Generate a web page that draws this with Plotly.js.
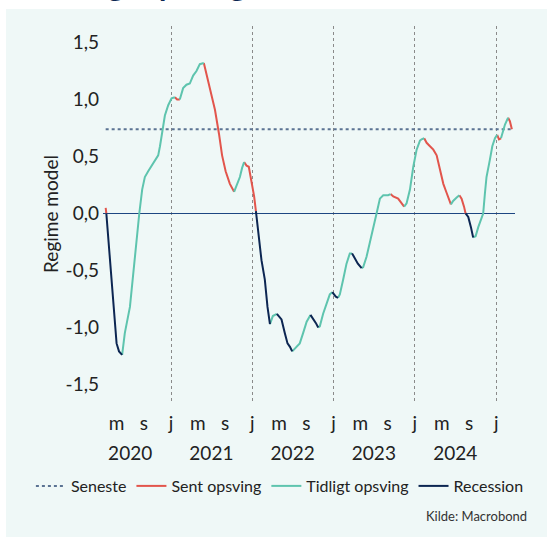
<!DOCTYPE html>
<html>
<head>
<meta charset="utf-8">
<script src="https://cdn.plot.ly/plotly-3.0.1.min.js"></script>
<style>html,body{margin:0;padding:0;background:#fff;}#chart{width:553px;height:540px;}</style>
</head>
<body>
<div id="chart"></div>
<script>
// ---- Data ----
const dates = [
"2020-03-13","2020-03-16","2020-03-28","2020-04-09","2020-04-16","2020-04-24","2020-05-01","2020-05-12","2020-05-26",
"2020-06-07","2020-06-30","2020-07-15","2020-07-30","2020-08-11","2020-08-24","2020-09-05","2020-09-20","2020-10-13",
"2020-11-04","2020-11-12","2020-11-22","2020-12-04","2020-12-19","2021-01-03","2021-01-18","2021-01-28","2021-02-09",
"2021-02-24","2021-03-11","2021-03-26","2021-04-10","2021-04-25","2021-05-10","2021-05-28","2021-06-24","2021-07-17",
"2021-08-04","2021-08-18","2021-09-03","2021-09-22","2021-10-11","2021-10-22","2021-11-06","2021-11-16","2021-11-25",
"2021-12-06","2021-12-16","2021-12-28","2022-01-09","2022-01-17","2022-01-27","2022-02-11","2022-02-26","2022-03-10",
"2022-03-21","2022-04-03","2022-04-21","2022-05-12","2022-05-27","2022-06-08","2022-06-19","2022-06-29","2022-07-14",
"2022-08-02","2022-08-17","2022-09-02","2022-09-19","2022-10-01","2022-10-13","2022-10-24","2022-10-31","2022-11-15",
"2022-11-30","2022-12-15","2022-12-26","2023-01-02","2023-01-11","2023-01-21","2023-01-29","2023-02-13","2023-02-28",
"2023-03-15","2023-03-25","2023-04-02","2023-04-20","2023-05-07","2023-05-14","2023-05-29","2023-06-13","2023-06-28",
"2023-07-13","2023-07-28","2023-08-12","2023-09-03","2023-09-14","2023-09-26","2023-10-18","2023-11-02","2023-11-14",
"2023-11-25","2023-12-10","2023-12-25","2024-01-09","2024-01-16","2024-01-24","2024-01-31","2024-02-12","2024-02-23",
"2024-03-09","2024-03-24","2024-04-08","2024-04-23","2024-05-08","2024-05-23","2024-06-11","2024-06-21","2024-07-07",
"2024-07-19","2024-07-29","2024-08-09","2024-08-16","2024-08-28","2024-09-09","2024-09-19","2024-09-30","2024-10-12",
"2024-10-27","2024-11-03","2024-11-11","2024-11-18","2024-12-03","2024-12-14","2024-12-26","2025-01-05","2025-01-13",
"2025-01-22","2025-01-27","2025-02-09","2025-02-23","2025-03-03","2025-03-12"
];
const values = [
0.05,0.00,-0.29,-0.58,-0.82,-1.02,-1.14,-1.21,-1.24,
-1.05,-0.82,-0.52,-0.20,0.00,0.21,0.32,0.37,0.44,
0.51,0.59,0.73,0.86,0.95,1.01,1.02,1.00,1.00,
1.10,1.13,1.14,1.21,1.25,1.31,1.32,1.11,0.91,
0.70,0.51,0.37,0.26,0.19,0.25,0.32,0.40,0.45,
0.42,0.41,0.28,0.15,0.02,-0.17,-0.41,-0.58,-0.82,
-0.97,-0.90,-0.88,-0.93,-1.05,-1.14,-1.17,-1.21,-1.18,
-1.14,-1.05,-0.95,-0.89,-0.92,-0.96,-1.00,-0.99,-0.88,
-0.79,-0.71,-0.69,-0.71,-0.73,-0.74,-0.71,-0.58,-0.44,
-0.35,-0.35,-0.38,-0.44,-0.48,-0.47,-0.38,-0.26,-0.12,
0.00,0.13,0.16,0.16,0.17,0.15,0.13,0.09,0.06,
0.09,0.21,0.41,0.56,0.59,0.64,0.65,0.66,0.62,
0.59,0.56,0.51,0.38,0.26,0.18,0.08,0.11,0.14,
0.16,0.13,0.06,0.00,-0.03,-0.12,-0.21,-0.20,-0.12,
-0.04,0.00,0.18,0.32,0.47,0.59,0.66,0.69,0.65,
0.66,0.70,0.78,0.84,0.81,0.74
];
// regime of the segment ending at each point: S = Sent opsving, T = Tidligt opsving, R = Recession
const regimes = [
"S","S","R","R","R","R","R","R","R",
"T","T","T","T","T","T","T","T","T",
"T","T","T","T","T","T","T","S","S",
"T","T","T","T","T","T","T","S","S",
"S","S","S","S","S","T","T","T","T",
"S","S","S","S","S","R","R","R","R",
"R","T","T","R","R","R","R","R","T",
"T","T","T","T","R","R","R","T","T",
"T","T","T","R","R","R","T","T","T",
"T","T","R","R","R","T","T","T","T",
"T","T","T","T","T","S","S","S","S",
"T","T","T","T","T","T","T","T","S",
"S","S","S","S","S","S","S","T","T",
"T","S","S","S","R","R","R","T","T",
"T","T","T","T","T","T","T","T","S",
"S","T","T","T","S","S"
];
const regimeNames = {S: "Sent opsving", T: "Tidligt opsving", R: "Recession"};
const regimeColors = {S: "#e2554c", T: "#5ec4ae", R: "#0c2652"};
const latestName = "Seneste";
const monthTicks = ["2020-05-01","2020-09-01","2021-01-01","2021-05-01","2021-09-01","2022-01-01","2022-05-01","2022-09-01",
  "2023-01-01","2023-05-01","2023-09-01","2024-01-01","2024-05-01","2024-09-01","2025-01-01"];
const monthLabels = ["m","s","j","m","s","j","m","s","j","m","s","j","m","s","j"];
const yearTicks = ["2020-07-01","2021-07-01","2022-07-01","2023-07-01","2024-07-01"];
const yearLabels = ["2020","2021","2022","2023","2024"];
const janTicks = ["2021-01-01","2022-01-01","2023-01-01","2024-01-01","2025-01-01"];
const yTicks = [-1.5,-1.0,-0.5,0,0.5,1.0,1.5];
const yLabels = ["-1,5","-1,0","-0,5","0,0","0,5","1,0","1,5"];
const xRange = ["2020-03-01","2025-03-26"];

// ---- Build traces ----
function segments(code){
  const x = [], y = [];
  let open = false;
  for (let i = 1; i < dates.length; i++){
    if (regimes[i] === code){
      if (!open){ x.push(dates[i-1]); y.push(values[i-1]); open = true; }
      x.push(dates[i]); y.push(values[i]);
    } else if (open){ x.push(null); y.push(null); open = false; }
  }
  return {x, y};
}
const FONT = "Lato, 'DejaVu Sans', sans-serif";
const last = values[values.length-1];
const traces = [{
  type: "scatter", mode: "lines", name: latestName,
  x: [dates[0], dates[dates.length-1]], y: [last, last],
  line: {color: "#5b7393", width: 2, dash: "dot"}, hoverinfo: "skip"
}];
["S","T","R"].forEach(c => {
  const s = segments(c);
  traces.push({type: "scatter", mode: "lines", name: regimeNames[c], x: s.x, y: s.y,
    line: {color: regimeColors[c], width: 2}, connectgaps: false});
});

const layout = {
  width: 553, height: 540,
  margin: {l: 103, r: 38, t: 26, b: 138, autoexpand: false},
  paper_bgcolor: "#ffffff", plot_bgcolor: "rgba(0,0,0,0)",
  font: {family: FONT, color: "#222222"},
  separators: ", ",
  showlegend: true,
  legend: {orientation: "h", x: -0.175, xanchor: "left", y: -0.2234, yanchor: "middle",
    font: {size: 16, color: "#222222"}, bgcolor: "rgba(0,0,0,0)", itemwidth: 30, tracegroupgap: 0},
  xaxis: {type: "date", range: xRange, tickmode: "array", tickvals: monthTicks, ticktext: monthLabels, tickangle: 0,
    showgrid: false, zeroline: false, showline: false, ticks: "", ticklabelstandoff: 8, automargin: false,
    tickfont: {size: 19, color: "#222222"}},
  xaxis2: {type: "date", range: xRange, overlaying: "x", anchor: "y", side: "bottom", tickmode: "array", tickvals: janTicks,
    showticklabels: false, showgrid: true, gridcolor: "#8a8a8a", gridwidth: 1, griddash: "dot", zeroline: false, ticks: "", automargin: false},
  xaxis3: {type: "date", range: xRange, overlaying: "x", anchor: "y", side: "bottom", tickmode: "array", tickvals: yearTicks,
    ticktext: yearLabels, tickangle: 0, showgrid: false, zeroline: false, ticks: "", ticklabelstandoff: 38, automargin: false,
    tickfont: {size: 19, color: "#222222"}},
  yaxis: {range: [-1.654, 1.645], tickmode: "array", tickvals: yTicks, ticktext: yLabels, automargin: false,
    showgrid: false, zeroline: true, zerolinecolor: "#1d4682", zerolinewidth: 1.5, ticks: "",
    ticklabelstandoff: 3, tickfont: {size: 19, color: "#222222"},
    title: {text: "Regime model", font: {size: 19, color: "#222222"}, standoff: 1}},
  shapes: [{type: "rect", xref: "paper", yref: "paper", x0: -0.2354, x1: 1.0777, y0: -0.359, y1: 1.0452,
    fillcolor: "#eff8f7", line: {width: 0}, layer: "below"}],
  annotations: [
    {text: "Kilde: Macrobond", xref: "paper", yref: "paper", x: 1.035, y: -0.304, xanchor: "right", yanchor: "middle",
      showarrow: false, font: {size: 13, color: "#333333"}},
    {text: "<b>Tidligt opsving</b>", xref: "paper", yref: "paper", x: -0.1323, y: 1.0585, xanchor: "left", yanchor: "bottom",
      showarrow: false, font: {size: 30, color: "#0c2652"}}
  ]
};
const data2 = traces.concat([
  {type: "scatter", x: [xRange[0]], y: [null], xaxis: "x2", showlegend: false, hoverinfo: "skip"},
  {type: "scatter", x: [xRange[0]], y: [null], xaxis: "x3", showlegend: false, hoverinfo: "skip"}
]);
Plotly.newPlot("chart", data2, layout, {displayModeBar: false, staticPlot: true});
</script>
</body>
</html>
